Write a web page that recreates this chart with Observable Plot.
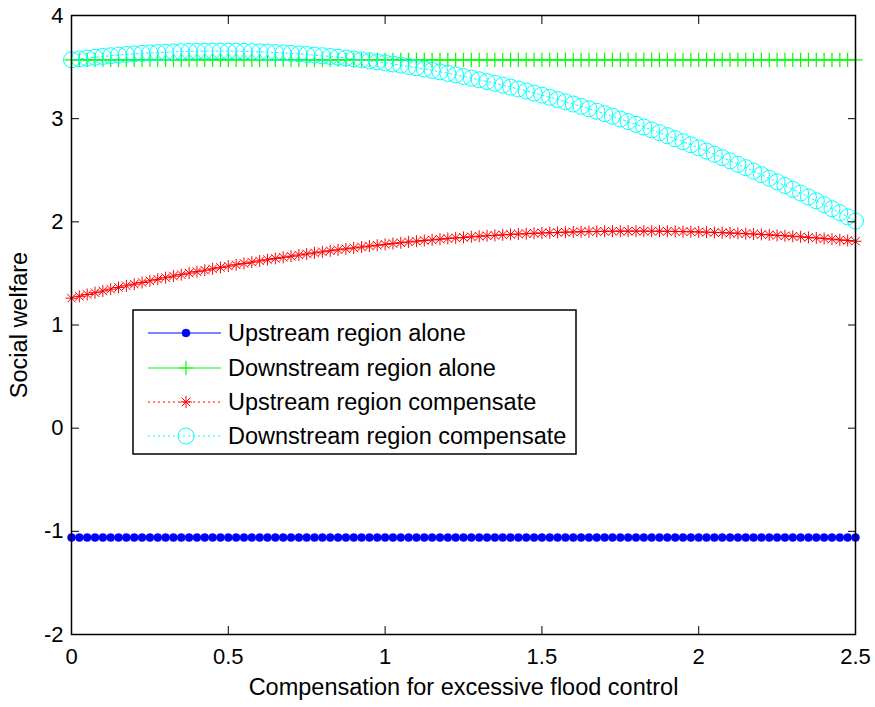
<!DOCTYPE html>
<html>
<head>
<meta charset="utf-8">
<script src="https://cdn.jsdelivr.net/npm/d3@7"></script>
<script src="https://cdn.jsdelivr.net/npm/@observablehq/plot@0.6"></script>
<style>
  html, body { margin: 0; padding: 0; background: white; }
  #chart { position: relative; width: 875px; height: 707px; }
</style>
</head>
<body>
<div id="chart"></div>
<script>
// ---- data ----
const xs = [0,0.025,0.05,0.075,0.1,0.125,0.15,0.175,0.2,0.225,
  0.25,0.275,0.3,0.325,0.35,0.375,0.4,0.425,0.45,0.475,
  0.5,0.525,0.55,0.575,0.6,0.625,0.65,0.675,0.7,0.725,
  0.75,0.775,0.8,0.825,0.85,0.875,0.9,0.925,0.95,0.975,
  1,1.025,1.05,1.075,1.1,1.125,1.15,1.175,1.2,1.225,
  1.25,1.275,1.3,1.325,1.35,1.375,1.4,1.425,1.45,1.475,
  1.5,1.525,1.55,1.575,1.6,1.625,1.65,1.675,1.7,1.725,
  1.75,1.775,1.8,1.825,1.85,1.875,1.9,1.925,1.95,1.975,
  2,2.025,2.05,2.075,2.1,2.125,2.15,2.175,2.2,2.225,
  2.25,2.275,2.3,2.325,2.35,2.375,2.4,2.425,2.45,2.475,
  2.5];

const upstreamAlone = [-1.06,-1.06,-1.06,-1.06,-1.06,-1.06,-1.06,-1.06,-1.06,-1.06,
  -1.06,-1.06,-1.06,-1.06,-1.06,-1.06,-1.06,-1.06,-1.06,-1.06,
  -1.06,-1.06,-1.06,-1.06,-1.06,-1.06,-1.06,-1.06,-1.06,-1.06,
  -1.06,-1.06,-1.06,-1.06,-1.06,-1.06,-1.06,-1.06,-1.06,-1.06,
  -1.06,-1.06,-1.06,-1.06,-1.06,-1.06,-1.06,-1.06,-1.06,-1.06,
  -1.06,-1.06,-1.06,-1.06,-1.06,-1.06,-1.06,-1.06,-1.06,-1.06,
  -1.06,-1.06,-1.06,-1.06,-1.06,-1.06,-1.06,-1.06,-1.06,-1.06,
  -1.06,-1.06,-1.06,-1.06,-1.06,-1.06,-1.06,-1.06,-1.06,-1.06,
  -1.06,-1.06,-1.06,-1.06,-1.06,-1.06,-1.06,-1.06,-1.06,-1.06,
  -1.06,-1.06,-1.06,-1.06,-1.06,-1.06,-1.06,-1.06,-1.06,-1.06,
  -1.06];

const downstreamAlone = [3.57,3.57,3.57,3.57,3.57,3.57,3.57,3.57,3.57,3.57,
  3.57,3.57,3.57,3.57,3.57,3.57,3.57,3.57,3.57,3.57,
  3.57,3.57,3.57,3.57,3.57,3.57,3.57,3.57,3.57,3.57,
  3.57,3.57,3.57,3.57,3.57,3.57,3.57,3.57,3.57,3.57,
  3.57,3.57,3.57,3.57,3.57,3.57,3.57,3.57,3.57,3.57,
  3.57,3.57,3.57,3.57,3.57,3.57,3.57,3.57,3.57,3.57,
  3.57,3.57,3.57,3.57,3.57,3.57,3.57,3.57,3.57,3.57,
  3.57,3.57,3.57,3.57,3.57,3.57,3.57,3.57,3.57,3.57,
  3.57,3.57,3.57,3.57,3.57,3.57,3.57,3.57,3.57,3.57,
  3.57,3.57,3.57,3.57,3.57,3.57,3.57,3.57,3.57,3.57,
  3.57];

const upstreamCompensate = [1.260,1.278,1.296,1.313,1.330,1.347,1.364,1.380,1.396,1.412,
  1.428,1.443,1.459,1.474,1.488,1.503,1.517,1.531,1.544,1.558,
  1.571,1.584,1.597,1.609,1.621,1.633,1.645,1.656,1.667,1.678,
  1.689,1.699,1.709,1.719,1.729,1.738,1.747,1.756,1.765,1.773,
  1.782,1.790,1.797,1.805,1.812,1.819,1.825,1.832,1.838,1.844,
  1.849,1.855,1.860,1.865,1.869,1.874,1.878,1.882,1.885,1.889,
  1.892,1.895,1.897,1.900,1.902,1.904,1.905,1.907,1.908,1.909,
  1.909,1.910,1.910,1.910,1.909,1.909,1.908,1.907,1.905,1.904,
  1.902,1.900,1.897,1.895,1.892,1.889,1.885,1.882,1.878,1.874,
  1.869,1.865,1.860,1.855,1.849,1.844,1.838,1.832,1.825,1.819,
  1.812];

const downstreamCompensate = [3.570,3.579,3.587,3.595,3.603,3.610,3.616,3.622,3.628,3.633,
  3.637,3.641,3.644,3.647,3.650,3.652,3.653,3.654,3.655,3.655,
  3.654,3.653,3.652,3.650,3.648,3.645,3.641,3.637,3.633,3.628,
  3.622,3.616,3.610,3.603,3.596,3.588,3.579,3.570,3.561,3.551,
  3.541,3.530,3.518,3.506,3.494,3.481,3.468,3.454,3.439,3.425,
  3.409,3.393,3.377,3.360,3.343,3.325,3.306,3.288,3.268,3.248,
  3.228,3.207,3.186,3.164,3.142,3.119,3.096,3.072,3.048,3.023,
  2.997,2.972,2.945,2.919,2.891,2.864,2.835,2.806,2.777,2.747,
  2.717,2.686,2.655,2.623,2.591,2.558,2.525,2.491,2.457,2.422,
  2.387,2.352,2.315,2.279,2.241,2.204,2.166,2.127,2.088,2.048,
  2.008];

const xTicks = [0, 0.5, 1, 1.5, 2, 2.5];
const xTickLabels = ["0", "0.5", "1", "1.5", "2", "2.5"];
const yTicks = [-2, -1, 0, 1, 2, 3, 4];
const yTickLabels = ["-2", "-1", "0", "1", "2", "3", "4"];

const seriesNames = ["Upstream region alone", "Downstream region alone",
                     "Upstream region compensate", "Downstream region compensate"];
const seriesColors = ["#0000ff", "#00ff00", "#ff0000", "#00ffff"];

const xLabel = "Compensation for excessive flood control";
const yLabel = "Social welfare";

// ---- build tables ----
const rows = (ys) => xs.map((x, i) => ({x, y: ys[i]}));
const dBlue = rows(upstreamAlone);
const dGreen = rows(downstreamAlone);
const dRed = rows(upstreamCompensate);
const dCyan = rows(downstreamCompensate);

const FONT = "'Liberation Sans', Arial, sans-serif";
const TICK = -8;

const chart = Plot.plot({
  width: 875,
  height: 707,
  marginLeft: 71,
  marginRight: 20,
  marginTop: 15,
  marginBottom: 73,
  x: {domain: [0, 2.5], axis: null},
  y: {domain: [-2, 4], axis: null},
  style: {fontFamily: FONT, fontSize: "22px", color: "black", background: "white", overflow: "visible"},
  marks: [
    // blue: solid line + filled dots
    Plot.line(dBlue, {x: "x", y: "y", stroke: seriesColors[0], strokeWidth: 1}),
    Plot.dot(dBlue, {x: "x", y: "y", r: 4, fill: seriesColors[0], stroke: seriesColors[0], strokeWidth: 0.5}),
    // green: solid line + plus
    Plot.line(dGreen, {x: "x", y: "y", stroke: seriesColors[1], strokeWidth: 1}),
    Plot.dot(dGreen, {x: "x", y: "y", r: 4.6, symbol: "plus", stroke: seriesColors[1], strokeWidth: 1.2}),
    // red: dotted line + asterisk (plus + times)
    Plot.line(dRed, {x: "x", y: "y", stroke: seriesColors[2], strokeWidth: 1, strokeDasharray: "2,3"}),
    Plot.dot(dRed, {x: "x", y: "y", r: 3.95, symbol: "plus", stroke: seriesColors[2], strokeWidth: 1}),
    Plot.dot(dRed, {x: "x", y: "y", r: 3.95, symbol: "times", stroke: seriesColors[2], strokeWidth: 1}),
    // cyan: dotted line + open circles
    Plot.line(dCyan, {x: "x", y: "y", stroke: seriesColors[3], strokeWidth: 1, strokeDasharray: "2,3"}),
    Plot.dot(dCyan, {x: "x", y: "y", r: 8, fill: "none", stroke: seriesColors[3], strokeWidth: 1}),
    // box and inward ticks
    Plot.frame({stroke: "black", strokeWidth: 1.5}),
    Plot.axisX(xTicks, {anchor: "bottom", tickSize: TICK, fill: "none", stroke: "black"}),
    Plot.axisX(xTicks, {anchor: "top", tickSize: TICK, fill: "none", stroke: "black"}),
    Plot.axisY(yTicks, {anchor: "left", tickSize: TICK, fill: "none", stroke: "black"}),
    Plot.axisY(yTicks, {anchor: "right", tickSize: TICK, fill: "none", stroke: "black"}),
    // tick labels
    Plot.axisX(xTicks, {anchor: "bottom", tickSize: 0, tickPadding: 14,
      tickFormat: (d, i) => xTickLabels[i], fill: "black", label: null}),
    Plot.axisY(yTicks, {anchor: "left", tickSize: 0, tickPadding: 8,
      tickFormat: (d, i) => yTickLabels[i], fill: "black", label: null}),
    // axis titles
    Plot.text([xLabel], {text: d => d, frameAnchor: "bottom", textAnchor: "middle", dy: 60, fontSize: 23.5, fill: "black"}),
    Plot.text([yLabel], {text: d => d, frameAnchor: "left", textAnchor: "middle", lineAnchor: "middle",
      rotate: -90, dx: -52, fontSize: 23.5, fill: "black"})
  ]
});

document.getElementById("chart").appendChild(chart);

// ---- legend (drawn inside the plot area, like the MATLAB legend box) ----
const svg = d3.select(chart);
const lg = svg.append("g").attr("class", "legend")
  .attr("font-family", FONT).attr("font-size", 23.5).attr("text-anchor", "start");
const box = {x: 133, y: 310, w: 443, h: 144};
lg.append("rect").attr("x", box.x).attr("y", box.y).attr("width", box.w).attr("height", box.h)
  .attr("fill", "white").attr("stroke", "black").attr("stroke-width", 1.5);
const rowY = [333, 368, 402, 436];
const dash = [null, null, "2,3", "2,3"];
seriesNames.forEach((name, i) => {
  const y = rowY[i];
  const g = lg.append("g");
  g.append("line").attr("x1", 148).attr("x2", 221).attr("y1", y).attr("y2", y)
    .attr("stroke", seriesColors[i]).attr("stroke-width", 1).attr("stroke-dasharray", dash[i]);
  const m = g.append("g").attr("transform", `translate(186,${y})`);
  if (i === 0) {
    m.append("circle").attr("r", 4).attr("fill", seriesColors[i]).attr("stroke", seriesColors[i]).attr("stroke-width", 0.5);
  } else if (i === 1) {
    m.append("path").attr("d", d3.symbol(d3.symbolPlus, Math.PI * 4.6 * 4.6)()).attr("fill", "none")
      .attr("stroke", seriesColors[i]).attr("stroke-width", 1.2);
  } else if (i === 2) {
    m.append("path").attr("d", d3.symbol(d3.symbolPlus, Math.PI * 3.95 * 3.95)()).attr("fill", "none")
      .attr("stroke", seriesColors[i]).attr("stroke-width", 1);
    m.append("path").attr("d", d3.symbol(d3.symbolTimes, Math.PI * 3.95 * 3.95)()).attr("fill", "none")
      .attr("stroke", seriesColors[i]).attr("stroke-width", 1);
  } else {
    m.append("circle").attr("r", 8).attr("fill", "none").attr("stroke", seriesColors[i]).attr("stroke-width", 1);
  }
  g.append("text").attr("x", 228).attr("y", y).attr("dy", "0.36em").attr("fill", "black")
    .attr("text-anchor", "start").text(name);
});
</script>
</body>
</html>
